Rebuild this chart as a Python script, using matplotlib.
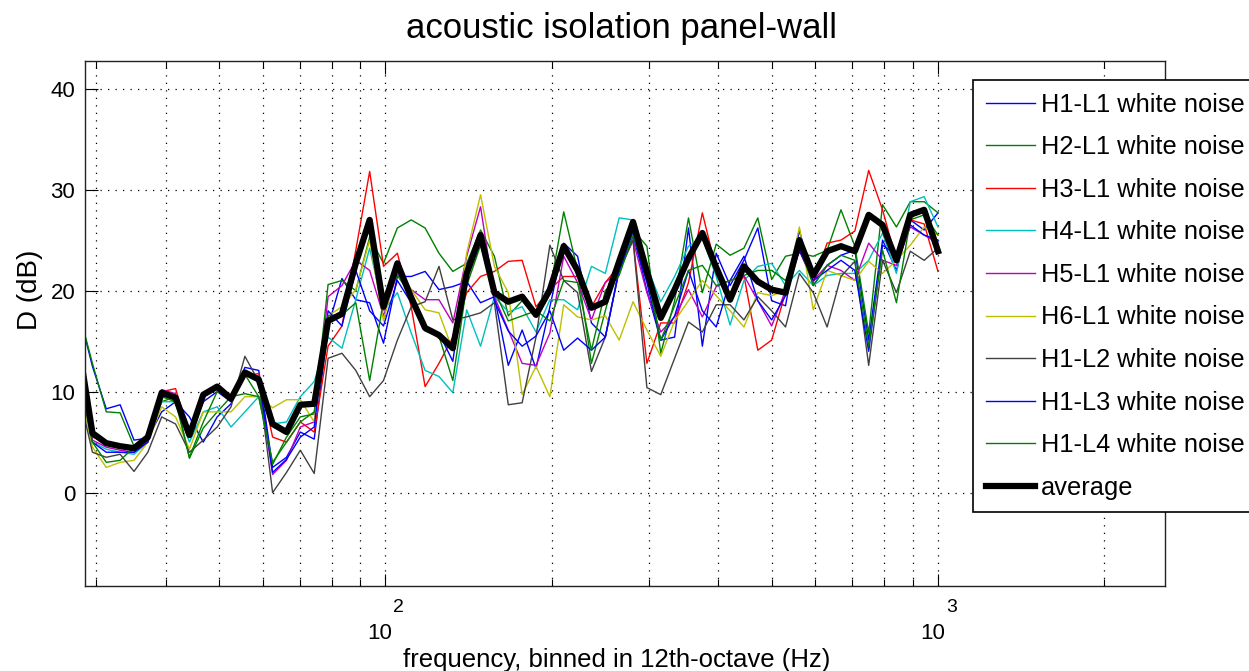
import numpy as np
import matplotlib
matplotlib.use('Agg')
import matplotlib.pyplot as plt
from matplotlib import transforms

plt.rcParams['font.family'] = ['Liberation Sans', 'DejaVu Sans']

# 12th-octave bin centres (Hz)
freq = [27.84, 29.50, 31.25, 33.11, 35.08, 37.16, 39.37, 41.71, 44.19, 46.82,
        49.61, 52.56, 55.68, 58.99, 62.50, 66.22, 70.15, 74.33, 78.75, 83.43,
        88.39, 93.65, 99.21, 105.11, 111.36, 117.99, 125.00, 132.43, 140.31, 148.65,
        157.49, 166.86, 176.78, 187.29, 198.43, 210.22, 222.72, 235.97, 250.00, 264.87,
        280.62, 297.30, 314.98, 333.71, 353.55, 374.58, 396.85, 420.45, 445.45, 471.94,
        500.00, 529.73, 561.23, 594.60, 629.96, 667.42, 707.11, 749.15, 793.70, 840.90,
        890.90, 943.87, 1000.00]

h1_l1 = [18.0, 12.5, 8.3, 8.7, 5.2, 5.4, 8.0, 9.0, 7.5, 5.0,
         7.5, 8.8, 12.4, 12.1, 2.5, 3.5, 6.0, 5.3, 16.4, 21.2,
         19.1, 18.8, 14.8, 21.4, 21.4, 21.9, 20.1, 20.4, 20.9, 18.8,
         19.4, 12.6, 16.1, 12.3, 18.4, 24.7, 23.4, 16.8, 15.4, 22.2,
         25.8, 20.0, 15.1, 15.4, 26.2, 14.5, 23.7, 20.5, 23.0, 26.2,
         19.0, 18.5, 26.0, 20.5, 22.5, 23.5, 24.0, 15.1, 25.0, 22.0,
         27.0, 26.0, 27.7]
h2_l1 = [18.0, 12.8, 8.0, 7.9, 4.6, 5.5, 9.0, 9.5, 3.4, 6.4,
         8.0, 9.5, 11.7, 9.5, 2.8, 5.5, 7.5, 7.8, 20.6, 21.0,
         20.0, 25.3, 22.7, 26.2, 27.0, 26.2, 23.7, 21.9, 22.7, 26.0,
         23.4, 17.5, 19.0, 17.5, 20.0, 27.8, 22.0, 12.8, 18.0, 23.2,
         26.0, 24.4, 13.8, 19.0, 27.2, 19.8, 24.6, 23.5, 24.2, 27.2,
         21.1, 23.4, 23.7, 23.4, 24.0, 28.0, 24.4, 15.8, 28.5, 26.3,
         28.8, 28.8, 27.7]
h3_l1 = [12.0, 5.5, 5.0, 4.7, 4.4, 5.8, 10.0, 10.3, 5.8, 9.8,
         10.4, 9.4, 11.5, 11.8, 5.5, 5.0, 7.0, 6.0, 14.5, 16.5,
         24.0, 31.8, 22.4, 23.7, 18.4, 10.5, 12.8, 15.4, 19.8, 21.4,
         21.9, 22.9, 23.0, 18.4, 20.1, 21.4, 21.4, 18.4, 20.8, 22.5,
         25.0, 12.8, 16.8, 16.8, 20.8, 27.7, 22.1, 19.1, 21.5, 14.1,
         15.1, 19.8, 24.0, 20.8, 24.7, 25.0, 25.9, 31.9, 28.0, 23.0,
         27.0, 26.6, 21.9]
h4_l1 = [11.0, 5.0, 4.3, 4.0, 3.8, 5.0, 9.0, 9.0, 5.0, 8.0,
         8.5, 6.5, 8.0, 9.5, 6.8, 7.0, 9.5, 11.0, 15.4, 14.3,
         19.1, 24.2, 18.0, 19.8, 15.8, 12.1, 11.5, 9.9, 18.1, 14.5,
         19.4, 17.9, 18.4, 15.9, 19.1, 19.1, 18.1, 22.4, 21.7, 27.2,
         27.0, 22.4, 18.9, 21.4, 24.4, 25.2, 21.4, 16.6, 21.0, 22.4,
         22.7, 20.5, 22.0, 20.5, 21.5, 21.7, 21.7, 23.0, 25.7, 21.7,
         28.8, 29.3, 26.3]
h5_l1 = [12.0, 5.2, 4.5, 4.2, 4.0, 5.0, 10.2, 9.8, 5.5, 9.7,
         10.2, 9.5, 12.0, 11.0, 1.8, 3.2, 6.5, 7.0, 19.4, 20.5,
         23.0, 22.0, 17.5, 21.7, 20.1, 19.1, 19.1, 16.8, 23.4, 28.3,
         19.4, 16.1, 12.8, 12.6, 15.8, 23.4, 20.8, 17.1, 20.8, 21.9,
         25.0, 19.8, 15.9, 17.4, 20.1, 17.4, 20.4, 21.0, 21.5, 19.0,
         16.5, 20.0, 24.0, 21.0, 22.5, 22.0, 21.0, 24.7, 23.0, 22.5,
         26.3, 25.5, 24.7]
h6_l1 = [11.0, 4.5, 2.5, 3.0, 3.2, 5.0, 8.5, 7.5, 4.3, 8.0,
         8.0, 8.0, 9.5, 9.5, 8.4, 9.2, 9.2, 7.0, 17.5, 18.4,
         20.1, 25.0, 17.0, 22.5, 20.1, 18.1, 17.8, 14.1, 23.7, 29.5,
         22.4, 19.8, 9.7, 12.5, 9.5, 18.6, 17.4, 17.1, 17.5, 15.1,
         18.9, 16.1, 13.5, 17.0, 19.0, 21.0, 19.5, 18.0, 16.4, 19.8,
         19.5, 20.0, 26.3, 18.1, 22.0, 21.5, 21.0, 22.9, 21.7, 23.0,
         24.5, 26.3, 25.5]
h1_l2 = [10.0, 4.0, 3.5, 3.8, 2.1, 4.0, 7.5, 6.8, 4.0, 5.2,
         6.5, 8.5, 13.5, 11.0, 0.0, 2.0, 4.2, 1.9, 13.3, 13.8,
         12.1, 9.5, 11.1, 15.1, 18.4, 18.9, 22.4, 17.1, 17.4, 17.8,
         18.8, 8.7, 8.9, 15.4, 24.5, 21.0, 19.8, 12.0, 15.4, 22.0,
         25.0, 10.4, 9.7, 13.3, 16.9, 15.9, 18.6, 18.6, 17.1, 19.4,
         18.0, 16.4, 21.7, 19.8, 16.4, 21.4, 22.9, 12.6, 23.0, 19.8,
         23.9, 23.0, 24.2]
h1_l3 = [12.0, 5.0, 4.0, 4.0, 4.0, 5.0, 9.5, 9.5, 5.5, 9.0,
         10.0, 9.0, 12.0, 11.5, 2.0, 3.3, 5.5, 6.5, 18.0, 16.5,
         22.0, 18.0, 16.5, 21.0, 18.8, 16.1, 15.8, 13.0, 22.5, 25.2,
         19.0, 16.0, 14.5, 15.5, 18.0, 14.1, 15.3, 14.1, 15.4, 22.0,
         25.4, 20.8, 15.1, 17.5, 22.0, 18.0, 16.4, 21.0, 23.4, 19.0,
         17.1, 19.5, 24.0, 21.0, 22.0, 23.0, 22.0, 14.0, 24.5, 23.5,
         26.5, 25.5, 25.0]
h1_l4 = [12.0, 5.0, 3.0, 3.2, 4.5, 5.5, 9.5, 9.0, 3.5, 7.0,
         10.0, 9.5, 9.8, 9.5, 3.0, 5.0, 7.0, 8.0, 17.5, 17.6,
         18.8, 11.1, 19.0, 21.5, 19.5, 16.0, 15.5, 11.1, 20.5, 24.5,
         20.0, 17.0, 17.5, 18.0, 17.0, 21.0, 20.8, 14.1, 20.0, 21.5,
         25.5, 21.5, 15.1, 18.5, 22.0, 22.5, 20.5, 21.0, 21.5, 22.0,
         22.0, 21.0, 24.5, 20.5, 22.5, 23.5, 23.0, 14.5, 24.0, 18.8,
         27.0, 27.5, 25.5]
average = [14.7, 5.9, 4.9, 4.6, 4.4, 5.5, 9.9, 9.4, 5.7, 9.7,
           10.5, 9.3, 11.9, 11.2, 6.8, 6.0, 8.7, 8.8, 17.0, 17.7,
           22.7, 27.0, 18.4, 22.7, 19.3, 16.3, 15.6, 14.3, 21.7, 25.5,
           19.8, 18.9, 19.4, 17.6, 20.1, 24.4, 22.0, 18.3, 18.9, 22.9,
           26.8, 21.9, 17.3, 20.1, 23.2, 25.7, 22.3, 19.1, 22.4, 20.9,
           20.1, 19.8, 25.0, 21.5, 23.9, 24.4, 23.9, 27.5, 26.5, 23.0,
           27.5, 28.0, 23.9]

labels = ['H1-L1 white noise', 'H2-L1 white noise', 'H3-L1 white noise',
          'H4-L1 white noise', 'H5-L1 white noise', 'H6-L1 white noise',
          'H1-L2 white noise', 'H1-L3 white noise', 'H1-L4 white noise']
series = [h1_l1, h2_l1, h3_l1, h4_l1, h5_l1, h6_l1, h1_l2, h1_l3, h1_l4]
colors = [(0, 0, 1), (0, 0.5, 0), (1, 0, 0), (0, 0.75, 0.75), (0.75, 0, 0.75),
          (0.75, 0.75, 0), (0.25, 0.25, 0.25), (0, 0, 1), (0, 0.5, 0)]

fig = plt.figure(figsize=(12.49, 6.71), dpi=100)
ax = fig.add_axes([85 / 1249, 1 - 586 / 671, 1080 / 1249, 525 / 671])

for vals, lab, col in zip(series, labels, colors):
    ax.plot(freq, vals, color=col, lw=1.0, label=lab)
ax.plot(freq, average, color='k', lw=4.5, label='average')

ax.set_xscale('log')
ax.set_xlim(28.6, 2575)
ax.set_ylim(-9.24, 42.73)
ax.set_yticks([0, 10, 20, 30, 40])
ax.set_xticks([100, 1000])
ax.set_xticks([30, 40, 50, 60, 70, 80, 90, 200, 300, 400, 500, 600, 700, 800, 900, 2000], minor=True)
ax.set_xticklabels([])
ax.set_xticklabels([], minor=True)
ax.tick_params(which='both', direction='in', top=True, right=True, width=0.8, labelsize=16, pad=7)
ax.tick_params(which='major', length=9)
ax.tick_params(which='minor', length=5)
ax.grid(which='major', ls=(0, (1, 5)), color='k', lw=0.9)
ax.grid(which='minor', axis='x', ls=(0, (1, 5)), color='k', lw=0.9)
for sp in ax.spines.values():
    sp.set_linewidth(1.0)
    sp.set_color('#222222')

# MATLAB-like 10^n tick labels
xt = ax.get_xaxis_transform()
for f, e in [(100, '2'), (1000, '3')]:
    ax.text(f, 0, '10', fontsize=16, ha='right', va='top', clip_on=False,
            transform=transforms.offset_copy(xt, fig, x=7, y=-37, units='dots'))
    ax.text(f, 0, e, fontsize=14, ha='left', va='top', clip_on=False,
            transform=transforms.offset_copy(xt, fig, x=8, y=-13, units='dots'))

fig.text(622 / 1249, 1 - 12 / 671, 'acoustic isolation panel-wall', fontsize=25, ha='center', va='top')
fig.text(617 / 1249, 1 - 648 / 671, 'frequency, binned in 12th-octave (Hz)', fontsize=18.5, ha='center', va='top')
fig.text(30 / 1249, 1 - 290 / 671, 'D (dB)', fontsize=20, ha='center', va='center', rotation=90)

leg = ax.legend(loc='upper left', bbox_to_anchor=(973 / 1249, 1 - 80 / 671), bbox_transform=fig.transFigure,
                fontsize=18.3, frameon=True, fancybox=False, edgecolor='k', framealpha=1,
                borderpad=0.5, labelspacing=0.73, handlelength=1.95, handletextpad=0.23, borderaxespad=0)
leg.get_frame().set_linewidth(1.2)

fig.savefig('out.png', dpi=100)
